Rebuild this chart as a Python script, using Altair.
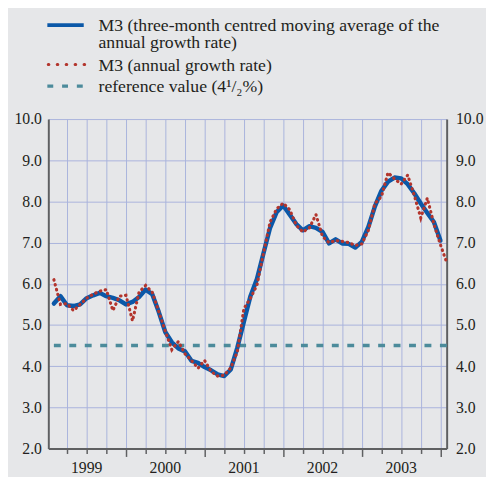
import altair as alt
import pandas as pd

# ---- data (months counted from January 1999 = 0) ----
growth_month = list(range(61))          # Jan 1999 .. Jan 2004
annual_growth = [
    6.10, 5.50, 5.52, 5.35, 5.50, 5.65, 5.75, 5.82, 5.86, 5.35, 5.70, 5.72,
    5.10, 5.80, 5.96, 5.80, 5.33, 4.85, 4.40, 4.60, 4.30, 4.14, 3.95, 4.14,
    3.87, 3.76, 3.78, 3.96, 4.35, 5.40, 5.65, 5.97, 6.75, 7.50, 7.82, 7.96,
    7.80, 7.42, 7.26, 7.36, 7.68, 7.15, 7.00, 7.05, 7.03, 7.00, 6.93, 6.97,
    7.30, 7.95, 8.12, 8.70, 8.55, 8.42, 8.64, 8.15, 7.60, 8.08, 7.45, 6.95,
    6.50,
]
ma_month = list(range(60))              # Jan 1999 .. Dec 2003
moving_avg = [
    5.52, 5.70, 5.48, 5.46, 5.50, 5.65, 5.72, 5.78, 5.70, 5.66, 5.60, 5.50,
    5.56, 5.68, 5.86, 5.75, 5.32, 4.83, 4.58, 4.43, 4.36, 4.13, 4.08, 3.98,
    3.90, 3.80, 3.76, 3.92, 4.45, 5.08, 5.70, 6.12, 6.75, 7.36, 7.74, 7.90,
    7.68, 7.45, 7.30, 7.40, 7.36, 7.26, 6.98, 7.08, 6.98, 6.97, 6.88, 7.02,
    7.38, 7.88, 8.26, 8.48, 8.58, 8.56, 8.42, 8.20, 7.95, 7.72, 7.50, 7.05,
]
ref_month = [0, 60]
ref_value = [4.5, 4.5]
year_labels = ["1999", "2000", "2001", "2002", "2003"]
year_mid_month = [6, 18, 30, 42, 54]
quarter_month = list(range(0, 61, 3))
y_ticks = [2, 3, 4, 5, 6, 7, 8, 9, 10]

legend_labels = [
    "M3 (three-month centred moving average of the",
    "annual growth rate)",
    "M3 (annual growth rate)",
    "reference value (4\u00b9/\u2082%)",
]

# ---- styles ----
BG = "#e6e7e9"
BLUE = "#0b58a8"
RED = "#b3352d"
TEAL = "#4c8b9b"
GRID = "#a9b4dc"
AXIS = "#5f6062"
TXT = "#231f20"
FONT = "Liberation Serif"
W, H = 405, 335

# data points are plotted at month end
g_df = pd.DataFrame({"t": [m + 1 for m in growth_month], "v": annual_growth})
ma_df = pd.DataFrame({"t": [m + 1 for m in ma_month], "v": moving_avg})
ref_df = pd.DataFrame({"t": [m + 1 for m in ref_month], "v": ref_value})
yr_df = pd.DataFrame({"t": year_mid_month, "label": year_labels})
one = pd.DataFrame({"a": [0]})

xscale = alt.Scale(domain=[0.15, 60.95], nice=False, zero=False)
yscale = alt.Scale(domain=[2, 10], nice=False, zero=False)

xaxis = alt.Axis(
    values=quarter_month, grid=True, gridColor=GRID, gridWidth=1, labels=False,
    title=None, domainColor=AXIS, domainWidth=2, tickColor=AXIS, tickWidth=1.5,
    tickSize={"condition": {"test": "datum.value % 12 === 0", "value": 8}, "value": 5},
    orient="bottom",
)
X = alt.X("t:Q", scale=xscale, axis=xaxis)


def yaxis(orient):
    return alt.Axis(
        values=y_ticks, format=".1f", grid=(orient == "left"), gridColor=GRID,
        gridWidth=1, domainColor=AXIS, domainWidth=2, ticks=False,
        labelPadding=7 if orient == "left" else 9,
        labelFont=FONT, labelFontSize=16, labelColor=TXT,
        title=None, orient=orient,
    )


blue = alt.Chart(ma_df).mark_line(
    color=BLUE, strokeWidth=4.5, strokeJoin="round", strokeCap="round"
).encode(x=X, y=alt.Y("v:Q", scale=yscale, axis=yaxis("left")))

ref = alt.Chart(ref_df).mark_line(
    color=TEAL, strokeWidth=3.5, strokeDash=[7, 8.7]
).encode(x=X, y=alt.Y("v:Q", scale=yscale, axis=yaxis("right")))

dots = alt.Chart(g_df).mark_line(
    color=RED, strokeWidth=3.2, strokeDash=[0.5, 4.6], strokeCap="round"
).encode(x=X, y=alt.Y("v:Q", scale=yscale, axis=None))

years = alt.Chart(yr_df).mark_text(
    baseline="top", align="center", font=FONT, fontSize=16, color=TXT
).encode(x=X, y=alt.value(H + 12), text="label:N")

# legend (drawn above the plot area)
lx0, lx1, tx = -1, 36, 51
leg_blue = alt.Chart(one).mark_rule(color=BLUE, strokeWidth=4).encode(
    x=alt.value(lx0), x2=alt.value(lx1), y=alt.value(-95.5))
leg_red = alt.Chart(one).mark_rule(
    color=RED, strokeWidth=3.2, strokeDash=[0.5, 8.6], strokeCap="round"
).encode(x=alt.value(lx0 + 1), x2=alt.value(lx1 + 1), y=alt.value(-55.5))
leg_teal = alt.Chart(one).mark_rule(
    color=TEAL, strokeWidth=3.5, strokeDash=[6, 9]
).encode(x=alt.value(lx0), x2=alt.value(lx1 + 1), y=alt.value(-33.5))

leg_text = []
for lab, yy in zip(legend_labels, [-90, -72, -49, -28]):
    leg_text.append(
        alt.Chart(one).mark_text(
            align="left", baseline="alphabetic", font=FONT, fontSize=18, color=TXT
        ).encode(x=alt.value(tx), y=alt.value(yy), text=alt.value(lab))
    )

chart = alt.layer(
    ref, blue, dots, years, leg_blue, leg_red, leg_teal, *leg_text
).resolve_scale(y="independent").properties(
    width=W, height=H, background=BG,
    autosize=alt.AutoSizeParams(type="none"),
    padding={"left": 41, "top": 109, "right": 40, "bottom": 25},
).configure_view(stroke=None, fill=BG)

chart.save("out.html", embed_options={"renderer": "svg", "actions": False})
